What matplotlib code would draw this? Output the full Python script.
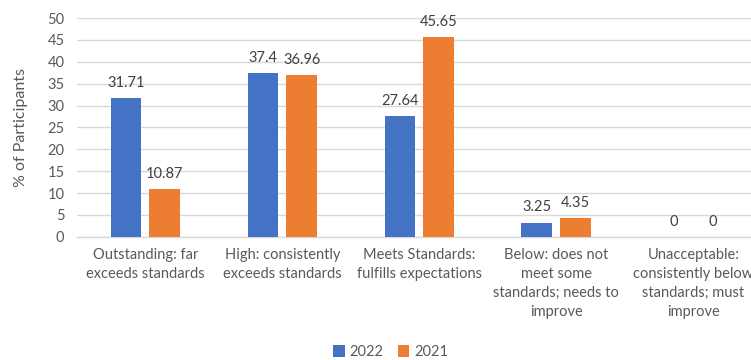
import numpy as np
import matplotlib
matplotlib.use("Agg")
import matplotlib.pyplot as plt

plt.rcParams['font.family'] = ['Lato', 'DejaVu Sans']

categories = ["Outstanding: far\nexceeds standards",
              "High: consistently\nexceeds standards",
              "Meets Standards:\nfulfills expectations",
              "Below: does not\nmeet some\nstandards; needs to\nimprove",
              "Unacceptable:\nconsistently below\nstandards; must\nimprove"]
vals_2022 = [31.71, 37.4, 27.64, 3.25, 0]
vals_2021 = [10.87, 36.96, 45.65, 4.35, 0]
series = [("2022", vals_2022, "#4472C4"), ("2021", vals_2021, "#ED7D31")]

fig = plt.figure(figsize=(7.51, 3.6), dpi=100)
ax = fig.add_axes([0.1025, 0.342, 0.912, 0.608])

x = np.arange(len(categories))
width = 0.226
offsets = [-0.142, 0.142]
for (name, vals, col), off in zip(series, offsets):
    bars = ax.bar(x + off, vals, width, color=col, label=name, zorder=3)
    for b, v in zip(bars, vals):
        ax.annotate("%g" % v, (b.get_x() + b.get_width() / 2, v),
                    xytext=(0, 6), textcoords="offset points",
                    ha="center", va="bottom", fontsize=10.5, color="#404040")

ax.set_xlim(-0.5, len(categories) - 0.5)
ax.set_ylim(0, 50)
ax.set_yticks(np.arange(0, 51, 5))
ax.grid(axis="y", color="#D9D9D9", linewidth=1, zorder=0)
for s in ["top", "right", "left"]:
    ax.spines[s].set_visible(False)
ax.spines["bottom"].set_color("#D9D9D9")
ax.spines["bottom"].set_linewidth(1)
ax.tick_params(axis="both", length=0, labelsize=10.5, labelcolor="#595959")
ax.tick_params(axis="y", pad=9)
ax.tick_params(axis="x", pad=8)
ax.set_xticks(x)
ax.set_xticklabels(categories, linespacing=1.45)
ax.set_ylabel("% of Participants", fontsize=11.5, color="#595959", labelpad=14)

fig.legend(loc="center", bbox_to_anchor=(0.52, 0.022), ncol=2, frameon=False,
           fontsize=10.5, handlelength=0.8, handleheight=0.8, handletextpad=0.3,
           columnspacing=1.0, labelcolor="#595959")

fig.savefig("out.png", dpi=100)
